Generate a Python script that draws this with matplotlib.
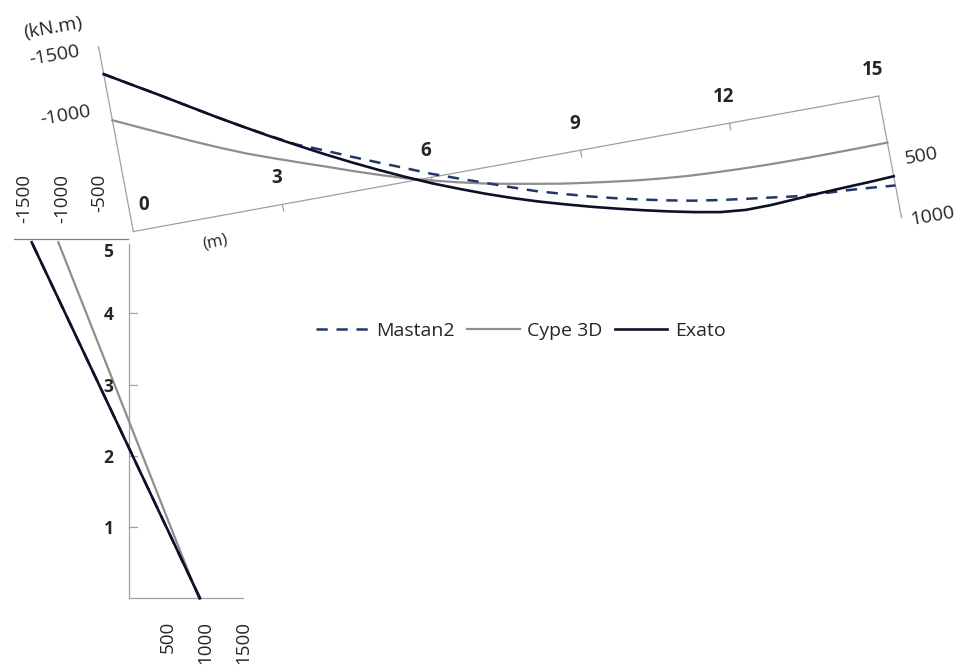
import numpy as np
import matplotlib.pyplot as plt
from matplotlib.transforms import Affine2D
from matplotlib.lines import Line2D

plt.rcParams['font.family'] = ['Open Sans', 'DejaVu Sans']

# viga inclinada: distancia ao longo da viga (m) e momento (kN.m)
beam_s = [0, 0.5, 1, 1.5, 2, 2.5, 3, 3.5, 4, 4.5, 5, 5.5, 6, 6.5, 7, 7.5,
          8, 8.5, 9, 9.5, 10, 10.5, 11, 11.5, 12, 12.5, 13, 13.5, 14, 14.5, 15]
beam_mastan2 = [-1295, -1172, -1050, -925, -800, -680, -565, -455, -372, -283,
                -198, -115, -30, 45, 118, 192, 263, 322, 380, 432,
                480, 524, 564, 596, 624, 650, 677, 693, 703, 718, 736]
beam_cype = [-916, -820, -725, -630, -540, -455, -380, -307, -236, -163,
             -94, -29, 26, 78, 125, 165, 202, 238, 268, 296,
             322, 343, 360, 371, 379, 385, 388, 389, 388, 386, 383]
beam_exato = [-1295, -1172, -1050, -925, -800, -680, -562, -450, -340, -235,
              -135, -40, 50, 132, 210, 282, 348, 408, 465, 518,
              568, 615, 658, 695, 714, 712, 700, 688, 679, 671, 660]

# pilar: altura (m) e momento (kN.m)
col_h = [0, 5]
col_mastan2 = [940, -1304]
col_cype = [925, -949]
col_exato = [940, -1304]

beam_ticks = [0, 3, 6, 9, 12, 15]
beam_vals_left = [-1500, -1000]
beam_vals_right = [500, 1000]
col_ticks = [1, 2, 3, 4, 5]
col_vals_bottom = [500, 1000, 1500]
col_vals_top = [-1500, -1000, -500]

c_mastan = '#1f3864'
c_cype = '#8e8e8e'
c_exato = '#0e1028'
c_axis = '#a0a0a0'
c_text = '#262626'

fig = plt.figure(figsize=(9.56, 6.66), dpi=100)
ax = fig.add_axes([0, 0, 1, 1])
ax.set_xlim(0, 956)
ax.set_ylim(666, 0)
ax.axis('off')

# projecao "3D" do grafico da viga e escala do pilar
beam_tr = Affine2D(np.array([[49.69, 0.02284, 133.3],
                             [-9.03, 0.1215, 231.5],
                             [0, 0, 1]])) + ax.transData
col_tr = Affine2D(np.array([[0.075, 0, 129.5],
                            [0, -71.2, 598.3],
                            [0, 0, 1]])) + ax.transData

# eixos da viga
ax.plot([0, 15], [0, 0], transform=beam_tr, color=c_axis, lw=0.9)
ax.plot([0, 0], [0, -1520], transform=beam_tr, color=c_axis, lw=0.9)
ax.plot([15, 15], [0, 1000], transform=beam_tr, color=c_axis, lw=0.9)
for s in beam_ticks[1:-1]:
    ax.plot([s, s], [0, 55], transform=beam_tr, color=c_axis, lw=0.9)

for s in beam_ticks:
    dx = 10.7 if s == 0 else -6
    ax.annotate(str(s), xy=(s, 0), xycoords=beam_tr, xytext=(dx, 26.5),
                textcoords='offset pixels', ha='center', va='center',
                fontsize=13.5, fontweight='bold', color=c_text)
for v in beam_vals_left:
    ax.annotate(str(v), xy=(0, v), xycoords=beam_tr, xytext=(-45, -6),
                textcoords='offset pixels', ha='center', va='center',
                fontsize=14, rotation=10, color=c_text)
for v in beam_vals_right:
    ax.annotate(str(v), xy=(15, v), xycoords=beam_tr, xytext=(31, 1),
                textcoords='offset pixels', ha='center', va='center',
                fontsize=14, rotation=10, color=c_text)
ax.text(53, 28, '(kN.m)', ha='center', va='center', fontsize=14,
        rotation=10, color=c_text)
ax.text(215, 242, '(m)', ha='center', va='center', fontsize=12,
        rotation=12, color=c_text)

# eixos do pilar
ax.plot([0, 0], [0, 4.98], transform=col_tr, color=c_axis, lw=0.9)
ax.plot([0, 1513], [0, 0], transform=col_tr, color=c_axis, lw=0.9)
ax.plot([-1540, -20], [5.05, 5.05], transform=col_tr, color='#808080', lw=0.9)
for h in col_ticks[:-1]:
    ax.plot([0, 100], [h, h], transform=col_tr, color=c_axis, lw=0.9)

for h in col_ticks:
    dy = -9.5 if h == 5 else -2
    ax.annotate(str(h), xy=(0, h), xycoords=col_tr, xytext=(-21, dy),
                textcoords='offset pixels', ha='center', va='center',
                fontsize=12.5, fontweight='bold', color=c_text)
for v in col_vals_bottom:
    ax.annotate(str(v), xy=(v, 0), xycoords=col_tr, xytext=(1, -22.7),
                textcoords='offset pixels', ha='center', va='top',
                fontsize=13.5, rotation=90, color=c_text)
for v in col_vals_top:
    ax.annotate(str(v), xy=(v, 5.05), xycoords=col_tr, xytext=(7.5, 64.8),
                textcoords='offset pixels', ha='center', va='top',
                fontsize=13.5, rotation=90, color=c_text)

# series
ax.plot(beam_s, beam_cype, transform=beam_tr, color=c_cype, lw=1.6)
ax.plot(beam_s, beam_mastan2, transform=beam_tr, color=c_mastan, lw=1.8,
        dashes=(4.5, 3.5))
ax.plot(beam_s, beam_exato, transform=beam_tr, color=c_exato, lw=1.9)

ax.plot(col_cype, col_h, transform=col_tr, color=c_cype, lw=1.6)
ax.plot(col_mastan2, col_h, transform=col_tr, color=c_mastan, lw=1.8,
        dashes=(4.5, 3.5))
ax.plot(col_exato, col_h, transform=col_tr, color=c_exato, lw=1.9)

handles = [
    Line2D([], [], color=c_mastan, lw=1.8, dashes=(4.5, 3.5)),
    Line2D([], [], color=c_cype, lw=1.6),
    Line2D([], [], color=c_exato, lw=1.9),
]
ax.legend(handles, ['Mastan2', 'Cype 3D', 'Exato'], loc='center',
          bbox_to_anchor=(521 / 956, 1 - 331 / 666), ncol=3, frameon=False,
          handlelength=2.7, handletextpad=0.41, columnspacing=0.62,
          fontsize=14, labelcolor=c_text)

fig.savefig('out.png', dpi=100)
